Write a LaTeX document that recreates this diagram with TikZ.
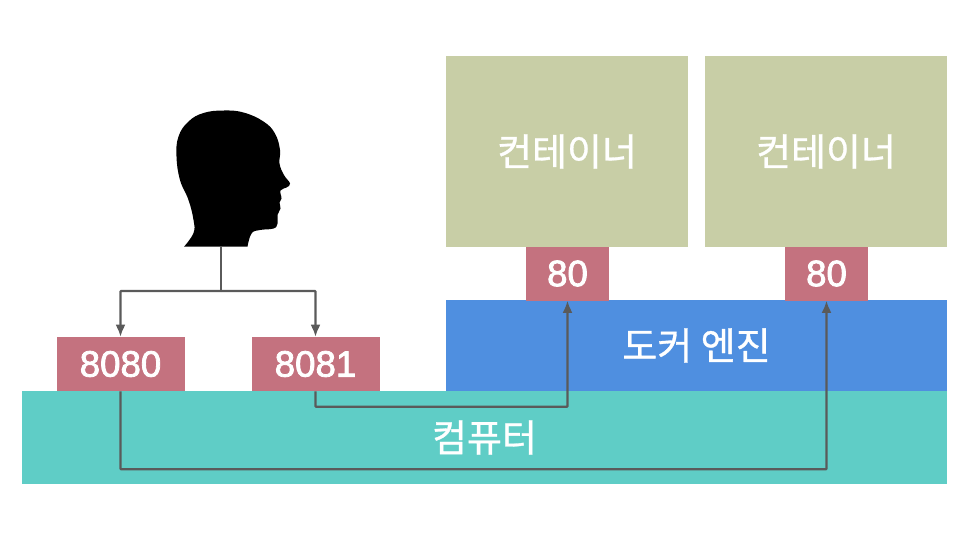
\documentclass[tikz,border=0pt]{standalone}
\usepackage{fontspec}
\setmainfont[FakeBold=0.8]{Noto Sans CJK KR}
\newfontfamily\digitfont[FakeBold=2.2]{Liberation Sans}
\usepackage{tikz}
\usetikzlibrary{arrows.meta}
\definecolor{hostcolor}{HTML}{5FCDC6}
\definecolor{enginecolor}{HTML}{4F8FE0}
\definecolor{containercolor}{HTML}{C8CEA6}
\definecolor{portcolor}{HTML}{C4727F}
\definecolor{linecolor}{HTML}{5A5A5A}
\tikzset{
    box/.style={
            rectangle,
            inner sep=0pt,
            text=white,
            font=\fontsize{28.5}{30}\selectfont
        },
    port/.style={
            box,
            fill=portcolor,
            minimum height=40.5pt,
            font=\digitfont\fontsize{27.5}{30}\selectfont
        },
    container/.style={
            box,
            fill=containercolor,
            minimum width=181.5pt,
            minimum height=143.25pt
        },
    connector/.style={
            draw=linecolor,
            line width=1.7pt,
            rounded corners=0.5pt
        },
    arrow connector/.style={
            connector,
            -{Latex[length=9pt,width=7.5pt]}
        }
}
\begin{document}
\begin{tikzpicture}[x=0.75pt,y=-0.75pt]
  \useasboundingbox (0,0) rectangle (960,540);
  \node[box,fill=hostcolor,minimum width=693.75pt,minimum height=69.75pt] (host) at (484.5,437.5) {컴퓨터};
  \node[box,fill=enginecolor,minimum width=375.75pt,minimum height=68.25pt] (engine) at (696.5,345.5) {도커 엔진};
  \node[container] (left) at (567,151.5) {컨테이너};
  \node[container] (right) at (826,151.5) {컨테이너};
  \node[port,minimum width=62.25pt] (porta) at (567.5,273.5) {80};
  \node[port,minimum width=62.25pt] (portb) at (826.5,273.5) {80};
  \node[port,minimum width=96pt] (hosta) at (120.5,364) {8080};
  \node[port,minimum width=96pt] (hostb) at (315.5,364) {8081};
  % head
  \fill[black] (184,246.7) -- plot[smooth,tension=0.7] coordinates {(184,246.7) (193.5,233) (193.5,220) (188.5,200) (180,180) (176.5,156.5) (178.5,136.5) (188.5,121.5) (203.5,113) (223.5,110.5) (243.5,112.5) (263.5,121.5) (275,133.5) (280,150) (279.5,163.5) (284,175) (290,183.5) (286.5,187.5) (280.5,190.5) (281.5,198.5) (279.5,202.5) (280.5,208.5) (277.5,215) (277.5,223.5) (273.5,228.5) (260,230) (251.5,233.5) (247.5,246.7)} -- cycle;
  \coordinate (head) at (221,246.7);
  \coordinate (split) at (221,291);
  \draw[connector] (head) -- (split);
  \draw[arrow connector] (split) -| (hosta.north);
  \draw[arrow connector] (split) -| (hostb.north);
  \draw[arrow connector] (hostb.south) -- ++(0,15.5) -| (porta.south);
  \draw[arrow connector] (hosta.south) -- ++(0,78) -| (portb.south);
\end{tikzpicture}
\end{document}
